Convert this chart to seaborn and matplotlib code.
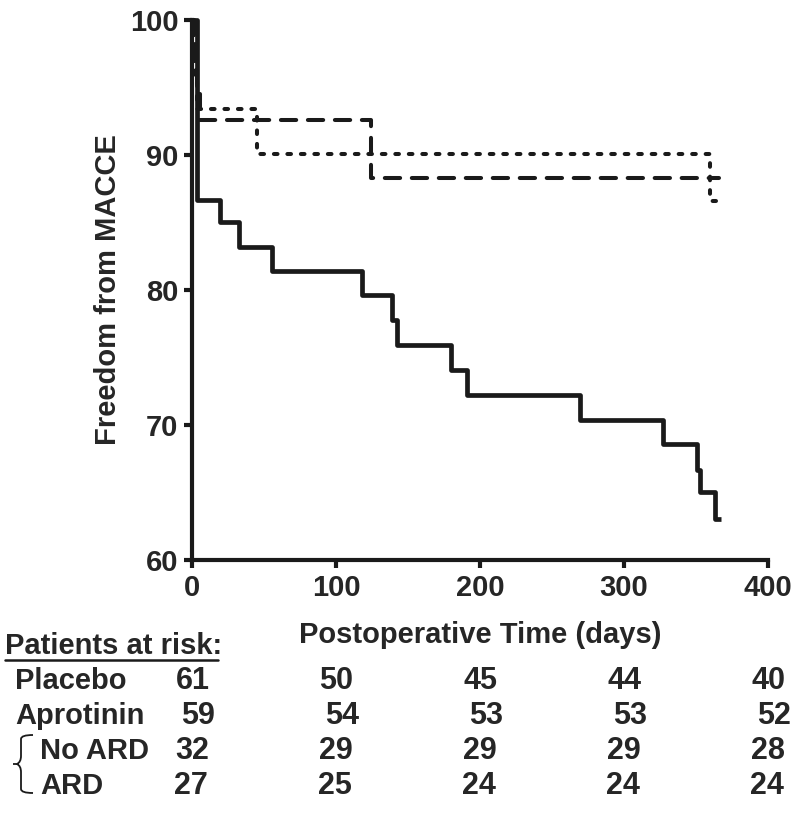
import numpy as np
import pandas as pd
import matplotlib
matplotlib.use("Agg")
import matplotlib.pyplot as plt
import matplotlib.transforms as mtransforms
from matplotlib.lines import Line2D
from matplotlib.path import Path
from matplotlib.patches import PathPatch
import seaborn as sns

# Kaplan-Meier steps (day, % free from MACCE)
placebo_days = [0, 3, 19, 32, 55, 118, 139, 142, 180, 191, 269, 327, 351, 353, 363, 367]
placebo_surv = [100, 86.7, 85.0, 83.2, 81.4, 79.6, 77.8, 75.9, 74.1, 72.2, 70.4, 68.6, 66.7, 65.0, 63.0, 63.0]

dash_days = [0, 1, 2, 3, 5, 124, 366]
dash_surv = [100, 98.2, 96.3, 94.5, 92.6, 88.3, 88.3]

dot_days = [0, 1, 2, 3, 45, 360, 364]
dot_surv = [100, 97.8, 95.6, 93.4, 90.1, 86.6, 86.6]

# patients at risk table
risk_times = [0, 100, 200, 300, 400]
risk_rows = ["Placebo", "Aprotinin", "No ARD", "ARD"]
risk_counts = [
    [61, 50, 45, 44, 40],
    [59, 54, 53, 53, 52],
    [32, 29, 29, 29, 28],
    [27, 25, 24, 24, 24],
]

sns.set_style("ticks")
plt.rcParams['font.family'] = ['Liberation Sans', 'DejaVu Sans']
plt.rcParams['font.weight'] = 'bold'
narrow = ['Liberation Sans Narrow', 'Liberation Sans']

fig = plt.figure(figsize=(8, 8.13), dpi=100)
ax = fig.add_axes([0.2406, 0.3112, 0.9600 - 0.2406, 0.9754 - 0.3112])

df_p = pd.DataFrame({"day": placebo_days, "surv": placebo_surv})
df_d = pd.DataFrame({"day": dash_days, "surv": dash_surv})
df_o = pd.DataFrame({"day": dot_days, "surv": dot_surv})

sns.lineplot(data=df_p, x="day", y="surv", ax=ax, estimator=None, sort=False,
             drawstyle="steps-post", color="#1a1a1a", lw=3.4, solid_capstyle="butt",
             clip_on=False)
sns.lineplot(data=df_d, x="day", y="surv", ax=ax, estimator=None, sort=False,
             drawstyle="steps-post", color="#1a1a1a", lw=2.9,
             linestyle=(0, (3.8, 2.9)), dash_capstyle="round", clip_on=False)
sns.lineplot(data=df_o, x="day", y="surv", ax=ax, estimator=None, sort=False,
             drawstyle="steps-post", color="#1a1a1a", lw=2.9,
             linestyle=(0, (0.9, 2.45)), dash_capstyle="round", clip_on=False)

ax.set_xlim(0, 400)
ax.set_ylim(60, 100)
ax.set_xticks(risk_times)
ax.set_yticks([60, 70, 80, 90, 100])
sns.despine(ax=ax)
for side in ["left", "bottom"]:
    ax.spines[side].set_linewidth(3)
    ax.spines[side].set_color("#1a1a1a")
ax.tick_params(width=3, length=6, color="#1a1a1a", pad=4)
for lab in ax.get_xticklabels() + ax.get_yticklabels():
    lab.set_fontweight("bold")
    lab.set_fontfamily(narrow)
    lab.set_fontsize(21)

ax.set_xlabel("Postoperative Time (days)", fontsize=21, fontweight="bold", labelpad=14)
ax.set_ylabel("Freedom from MACCE", fontsize=21, fontweight="bold", labelpad=6)

# at-risk table under the axis
trans = mtransforms.blended_transform_factory(ax.transData, fig.transFigure)
fig.text(5 / 800, 1 - 654 / 813, "Patients at risk:", fontsize=21, fontweight="bold",
         va="baseline", ha="left")
fig.add_artist(Line2D([5 / 800, 218 / 800], [1 - 660 / 813, 1 - 660 / 813],
                      transform=fig.transFigure, color="#1a1a1a", lw=1.8))

row_base = [689, 724, 759, 794]
row_x = [15, 15, 40, 40]
row_shift = [0, 4, 0, -1]
for name, counts, yb, xl, sh in zip(risk_rows, risk_counts, row_base, row_x, row_shift):
    fig.text(xl / 800, 1 - yb / 813, name, fontsize=21, fontweight="bold",
             va="baseline", ha="left")
    for t, n in zip(risk_times, counts):
        ax.text(t + sh, 1 - yb / 813, str(n), transform=trans, fontsize=22,
                family=narrow, fontweight="bold", va="baseline", ha="center")

# thin brace grouping the aprotinin subgroups (figure pixel coords)
bx, top, mid, bot = 33, 735, 764, 793
verts = [(bx, top), (bx - 12, top), (bx - 12, top + 4), (bx - 12, mid - 8),
         (bx - 12, mid - 2), (bx - 16, mid), (bx - 20, mid),
         (bx - 16, mid), (bx - 12, mid + 2), (bx - 12, mid + 8),
         (bx - 12, bot - 4), (bx - 12, bot), (bx, bot)]
codes = [Path.MOVETO, Path.CURVE3, Path.CURVE3, Path.LINETO,
         Path.CURVE3, Path.CURVE3, Path.LINETO,
         Path.MOVETO, Path.CURVE3, Path.CURVE3,
         Path.LINETO, Path.CURVE3, Path.CURVE3]
verts = [(x / 800, 1 - y / 813) for x, y in verts]
fig.add_artist(PathPatch(Path(verts, codes), transform=fig.transFigure,
                         fill=False, lw=1.3, edgecolor="#1a1a1a"))

fig.savefig("out.png", dpi=100)
